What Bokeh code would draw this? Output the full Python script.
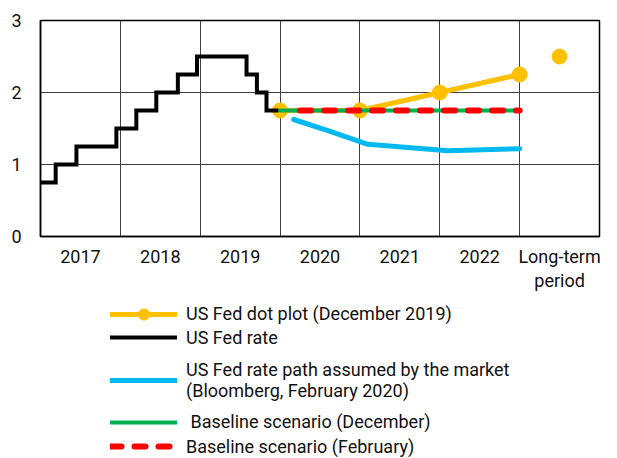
from bokeh.plotting import figure
from bokeh.layouts import column
from bokeh.models import Range1d, FixedTicker, Legend, LegendItem
from bokeh.embed import file_html
from bokeh.resources import INLINE

# ---------------- data ----------------
x_labels = ["2017", "2018", "2019", "2020", "2021", "2022", "Long-term\nperiod"]
y_ticks = [0, 1, 2, 3]

# US Fed rate (upper bound), step changes: start date of each level
fed_x = [2017.0, 2017.19, 2017.45, 2017.95, 2018.2, 2018.45, 2018.72, 2018.96,
         2019.58, 2019.71, 2019.83, 2019.97]
fed_y = [0.75, 1.0, 1.25, 1.5, 1.75, 2.0, 2.25, 2.5, 2.25, 2.0, 1.75, 1.75]

# US Fed dot plot (December 2019): year-end values
dot_years = [2019, 2020, 2021, 2022]
dot_vals = [1.75, 1.75, 2.0, 2.25]
longterm_val = [2.5]

# Market-implied path (Bloomberg, February 2020)
mkt_x = [2020.17, 2020.6, 2021.1, 2022.1, 2023.0]
mkt_y = [1.625, 1.47, 1.28, 1.19, 1.22]

# Baseline scenarios
base_dec_x = [2020.0, 2023.0]
base_dec_y = [1.75, 1.75]
base_feb_x = [2020.25, 2023.0]
base_feb_y = [1.75, 1.75]

series_labels = [
    "US Fed dot plot (December 2019)",
    "US Fed rate",
    "US Fed rate path assumed by the market\n(Bloomberg, February 2020)",
    " Baseline scenario (December)",
    "Baseline scenario (February)",
]

YEL = "#FFC000"
BLUE = "#00B9F0"
GREEN = "#00B050"
RED = "#FF0000"

TICK_FONT = "Roboto"
LEG_FONT = "Roboto"

STY = {
    "dot": dict(line_color=YEL, line_width=5, line_cap="round"),
    "dotm": dict(size=15, color=YEL),
    "fed": dict(line_color="black", line_width=4, line_join="miter", line_cap="round"),
    "mkt": dict(line_color=BLUE, line_width=5, line_cap="round", line_join="round"),
    "dec": dict(line_color=GREEN, line_width=4, line_cap="round"),
    "feb": dict(line_color=RED, line_width=6, line_dash="11 13", line_cap="round"),
}

W = 617
MAIN_H = 302

# ---------------- main chart ----------------
p = figure(width=W, height=MAIN_H, x_range=Range1d(2017, 2024), y_range=Range1d(0, 3),
           output_backend="svg", toolbar_location=None, title=None,
           min_border_left=40, min_border_right=18, min_border_top=20,
           min_border_bottom=MAIN_H - 236)
p.background_fill_color = "white"
p.border_fill_color = "white"
p.outline_line_color = "black"
p.outline_line_width = 1.5

xt = [2017.5 + i for i in range(len(x_labels))]
p.xaxis.ticker = FixedTicker(ticks=xt)
p.xaxis.major_label_overrides = {t: lab for t, lab in zip(xt, x_labels)}
p.yaxis.ticker = FixedTicker(ticks=y_ticks)
for ax in (p.xaxis[0], p.yaxis[0]):
    ax.major_tick_line_color = None
    ax.minor_tick_line_color = None
    ax.axis_line_color = "black"
    ax.axis_line_width = 1.5
    ax.major_label_text_font = TICK_FONT
    ax.major_label_text_font_size = "18px"
    ax.major_label_text_color = "#111111"
p.xaxis.major_label_standoff = 3
p.xaxis.major_label_text_line_height = 1.15
p.yaxis.major_label_standoff = 13

p.xgrid.ticker = FixedTicker(ticks=[2018, 2019, 2020, 2021, 2022, 2023])
p.ygrid.ticker = FixedTicker(ticks=[1, 2])
for g in (p.xgrid[0], p.ygrid[0]):
    g.grid_line_color = "#404040"
    g.grid_line_width = 1

dot_x = [y + 1.0 for y in dot_years]
p.line(dot_x, dot_vals, **STY["dot"])
p.scatter(dot_x, dot_vals, **STY["dotm"])
p.scatter([2023.5], longterm_val, **STY["dotm"])
p.step(fed_x, fed_y, mode="after", **STY["fed"])
p.line(base_dec_x, base_dec_y, **STY["dec"])
p.line(base_feb_x, base_feb_y, **STY["feb"])
p.line(mkt_x, mkt_y, **STY["mkt"])

# ---------------- legend panel ----------------
LH = 458 - MAIN_H  # legend panel height
q = figure(width=W, height=LH, x_range=Range1d(0, 1), y_range=Range1d(0, 1),
           output_backend="svg", toolbar_location=None, title=None,
           x_axis_location=None, y_axis_location=None,
           min_border_left=40, min_border_right=18, min_border_top=0, min_border_bottom=0)
q.outline_line_color = None
q.xgrid.visible = False
q.ygrid.visible = False
q.background_fill_color = "white"
q.border_fill_color = "white"

# legend-only renderers (placed outside the visible range of this panel)
off = dict(x=[-5, -4], y=[-5, -4])
r_dot = q.line(**off, **STY["dot"])
r_dotm = q.scatter(**off, **STY["dotm"])
r_fed = q.line(**off, **STY["fed"])
r_mkt = q.line(**off, **STY["mkt"])
r_dec = q.line(**off, **STY["dec"])
r_feb = q.line(**off, **STY["feb"])

PAGE_BOTTOM = 458.0
rows = [
    # renderers, row centre (page px), glyph_height, label_height
    ([r_dot, r_dotm], 313.5, 28, 22),
    ([r_fed], 337.0, 22, 22),
    ([r_mkt], 379.5, 20, 44),
    ([r_dec], 421.5, 22, 22),
    ([r_feb], 446.0, 22, 22),
]
for label, (rends, yc, gh, lh) in zip(series_labels, rows):
    h = max(gh, lh)
    bottom_page = yc + h / 2
    leg = Legend(items=[LegendItem(label=label, renderers=rends)],
                 location=(70, PAGE_BOTTOM - bottom_page))
    leg.glyph_width = 67
    leg.glyph_height = gh
    leg.label_height = lh
    leg.label_standoff = 9
    leg.padding = 0
    leg.margin = 0
    leg.spacing = 0
    leg.border_line_color = None
    leg.background_fill_alpha = 0
    leg.label_text_font = LEG_FONT
    leg.label_text_font_size = "18px"
    leg.label_text_color = "#111111"
    q.add_layout(leg, "center")

layout = column(p, q, spacing=0)
open("out.html", "w").write(file_html(layout, INLINE))
